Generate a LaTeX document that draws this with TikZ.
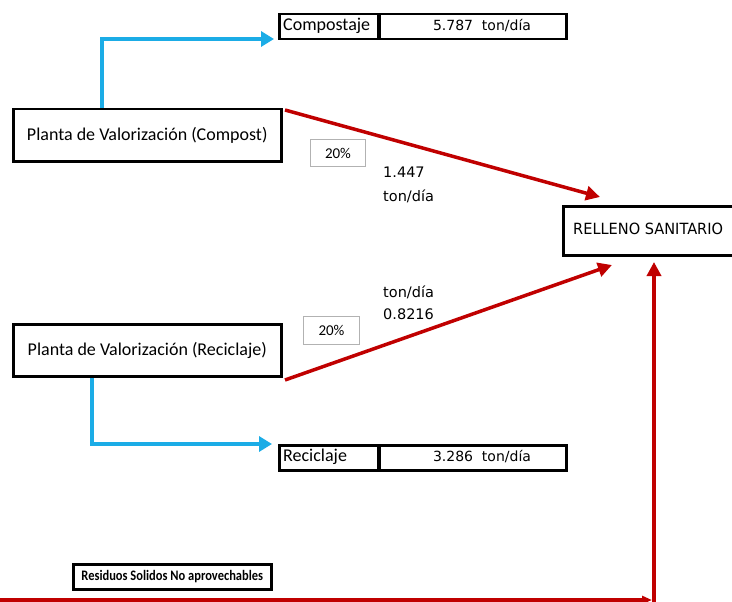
\documentclass[tikz,border=0pt]{standalone}
\usepackage{fontspec}
\setmainfont{Carlito}
\newfontfamily\numfont{DejaVu Sans}
\usetikzlibrary{arrows.meta}
\definecolor{myblue}{HTML}{1BACE6}
\definecolor{myred}{HTML}{C00000}
\tikzset{
  box/.style={draw=black, line width=2.5pt, inner sep=0pt, anchor=north west},
  pct/.style={draw=black!30, line width=1pt, inner sep=0pt, anchor=north west, font=\fontsize{15}{17}\selectfont},
  bflow/.style={draw=myblue, line width=4pt, -{Triangle[length=13pt,width=15pt]}},
  rflow/.style={draw=myred, line width=3.5pt, -{Triangle[length=14pt,width=14pt]}},
  lbl/.style={font=\numfont\fontsize{14.5}{17}\selectfont, anchor=west, inner sep=0pt},
  planta/.style={font=\fontsize{18}{20}\selectfont}
}
\begin{document}
\begin{tikzpicture}[x=1pt,y=-1pt]
\useasboundingbox (0,0) rectangle (732,602);
\begin{scope}
\clip (0,0) rectangle (732,602);
% boxes
\node[box, planta, minimum width=268pt, minimum height=52pt] (compost) at (12,108) {Planta de Valorización (Compost)};
\node[box, planta, minimum width=268pt, minimum height=52pt] (recic) at (12,323) {Planta de Valorización (Reciclaje)};
\node[box, minimum width=100pt, minimum height=25pt] (cpl) at (278,13) {};
\node[box, minimum width=188pt, minimum height=25pt] (cpr) at (377,13) {};
\node[anchor=west, inner sep=0pt, planta] (cplt) at (283,26) {Compostaje};
\node[font=\numfont\fontsize{14}{16}\selectfont, inner sep=0pt] (cprt) at (482,26) {5.787 \ ton/día};
\node[box, minimum width=100pt, minimum height=25pt] (rcl) at (278,444) {};
\node[box, minimum width=188pt, minimum height=25pt] (rcr) at (377,444) {};
\node[anchor=west, inner sep=0pt, planta] (rclt) at (283,457) {Reciclaje};
\node[font=\numfont\fontsize{14}{16}\selectfont, inner sep=0pt] (rcrt) at (482,457) {3.286 \ ton/día};
\node[box, minimum width=185pt, minimum height=49pt] (rel) at (562,205) {};
\node[anchor=west, inner sep=0pt, font=\numfont\fontsize{15}{17}\selectfont] (relt) at (573,229) {\scalebox{0.97}[1.03]{RELLENO SANITARIO}};
\node[box, minimum width=198pt, minimum height=25pt, font=\bfseries\fontsize{14.5}{16}\selectfont] (res) at (72,563) {\scalebox{0.86}[1]{Residuos Solidos No aprovechables}};
% percentages
\node[pct, minimum width=55pt, minimum height=27pt] (p1) at (310,139) {20\%};
\node[pct, minimum width=56pt, minimum height=28pt] (p2) at (303,316) {20\%};
\node[lbl] (v1) at (383,172) {1.447};
\node[lbl] (u1) at (383,196) {ton/día};
\node[lbl] (u2) at (383,292) {ton/día};
\node[lbl] (v2) at (383,314) {0.8216};
% coordinates
\coordinate (b1s) at (102,108);
\coordinate (b1c) at (102,39);
\coordinate (b1e) at (274,39);
\coordinate (b2s) at (92,378);
\coordinate (b2c) at (92,444);
\coordinate (b2e) at (272,444);
\coordinate (r1s) at (285,110);
\coordinate (r1e) at (600,197);
\coordinate (r2s) at (285,380);
\coordinate (r2e) at (612,265);
\coordinate (r3s) at (-5,600);
\coordinate (r3e) at (652,600);
\coordinate (r4s) at (654,602);
\coordinate (r4e) at (654,262);
% flows
\draw[bflow] (b1s) -- (b1c) -- (b1e);
\draw[bflow] (b2s) -- (b2c) -- (b2e);
\draw[rflow] (r1s) -- (r1e);
\draw[rflow] (r2s) -- (r2e);
\draw[draw=myred, line width=3.5pt, -{Triangle[length=10pt,width=8pt]}] (r3s) -- (r3e);
\draw[rflow] (r4s) -- (r4e);
\end{scope}
\end{tikzpicture}
\end{document}
